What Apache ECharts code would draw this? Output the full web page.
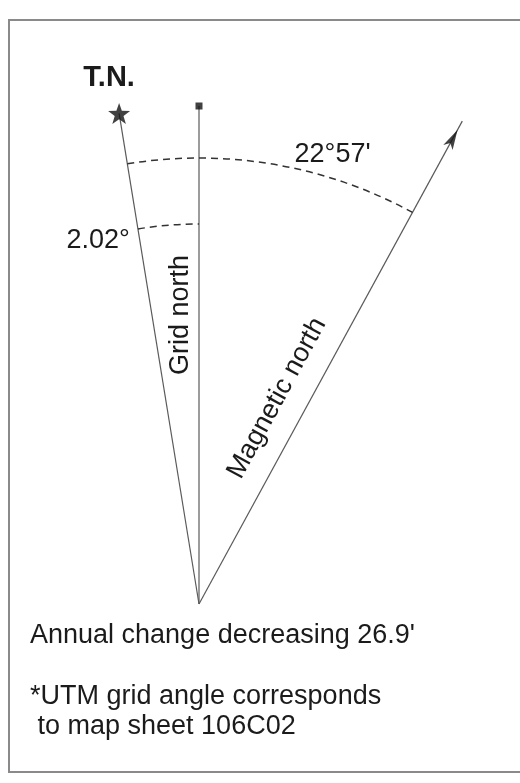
<!DOCTYPE html>
<html><head><meta charset="utf-8">
<script src="https://cdn.jsdelivr.net/npm/echarts/dist/echarts.min.js"></script>
<style>html,body{margin:0;padding:0;background:#fff}#c{width:520px;height:783px}</style>
</head><body><div id="c"></div>
<script>
// ---- data ----
const directions = ['T.N.', 'Grid north', 'Magnetic north'];
const drawnAngles = [-9.25, 0, 28.6];      // drawn direction, degrees clockwise from grid north
const lineLengths = [497, 498, 550];       // drawn line lengths (radius units)
const arcRadii = [380, 446];
const arcFrom = [0, 0];                    // index into directions
const arcTo = [1, 2];
const arcLabels = ['2.02°', "22°57'"];
const notes = ["Annual change decreasing 26.9'", '*UTM grid angle corresponds', ' to map sheet 106C02'];

// ---- styling / layout ----
const FONT = 'Liberation Sans, Arial, Helvetica, sans-serif';
const TEXT = '#1b1b1b';
const LINE = '#5a5a5a';
const STAR = 'path://M50,0 L61.8,33.8 L97.6,34.5 L69,56.2 L79.4,90.5 L50,70 L20.6,90.5 L31,56.2 L2.4,34.5 L38.2,33.8 Z';
const markerStyle = [
  { symbol: STAR, symbolSize: [22, 21], back: 0, rotate: false },
  { symbol: 'rect', symbolSize: [7, 7], back: 0, rotate: false },
  { symbol: 'arrow', symbolSize: [8, 20], back: 10, rotate: true }
];
const labelLayout = [
  { mode: 'end', dx: -10, dy: -35, weight: 'bold', size: 29 },
  { mode: 'along', along: 289, side: 18 },
  { mode: 'along', along: 218, side: 30 }
];
const arcLabelLayout = [
  { frac: 0, dx: -8, dy: 12, align: 'right' },
  { frac: 0.68, dx: 7, dy: -22, align: 'center' }
];

const chart = echarts.init(document.getElementById('c'), null, { renderer: 'canvas' });

const lineSeries = directions.map((d, i) => ({
  type: 'line', coordinateSystem: 'polar', name: d,
  data: [[0, drawnAngles[i]], [lineLengths[i], drawnAngles[i]]],
  showSymbol: false, symbol: 'none', silent: true,
  lineStyle: { color: LINE, width: 1.2 }, z: 2
}));

const markerSeries = {
  type: 'scatter', coordinateSystem: 'polar', silent: true, z: 4,
  data: directions.map((d, i) => ({
    value: [lineLengths[i] - markerStyle[i].back, drawnAngles[i]],
    symbol: markerStyle[i].symbol,
    symbolSize: markerStyle[i].symbolSize,
    symbolRotate: markerStyle[i].rotate ? -drawnAngles[i] : 0,
    itemStyle: { color: '#111' }
  }))
};

const lineLabelSeries = {
  type: 'custom', coordinateSystem: 'polar', silent: true, z: 5,
  encode: { radius: 0, angle: 1 },
  data: directions.map((d, i) => [lineLengths[i], drawnAngles[i], i]),
  renderItem: function (params, api) {
    const L = api.value(0), a = api.value(1), i = api.value(2);
    const lay = labelLayout[i];
    let x, y, rot = 0;
    if (lay.mode === 'end') {
      const p = api.coord([L, a]);
      x = p[0] + lay.dx; y = p[1] + lay.dy;
    } else {
      const p = api.coord([lay.along, a]);
      const rad = a * Math.PI / 180;
      x = p[0] - lay.side * Math.cos(rad);
      y = p[1] - lay.side * Math.sin(rad);
      rot = (90 - a) * Math.PI / 180;
    }
    return {
      type: 'text', x: x, y: y, rotation: rot,
      style: { text: directions[i], fill: TEXT, fontSize: lay.size || 27, fontFamily: FONT,
               fontWeight: lay.weight || 'normal', align: 'center', verticalAlign: 'middle' }
    };
  }
};

const arcSeries = {
  type: 'custom', coordinateSystem: 'polar', silent: true, z: 3,
  encode: { radius: 0, angle: 1 },
  data: arcRadii.map((r, k) => [r, drawnAngles[arcFrom[k]], drawnAngles[arcTo[k]], k]),
  renderItem: function (params, api) {
    const r = api.value(0), a0 = api.value(1), a1 = api.value(2), k = api.value(3);
    const c = api.coord([0, a0]);
    const p0 = api.coord([r, a0]);
    const p1 = api.coord([r, a1]);
    const R = Math.hypot(p0[0] - c[0], p0[1] - c[1]);
    const s = Math.atan2(p0[1] - c[1], p0[0] - c[0]);
    const e = Math.atan2(p1[1] - c[1], p1[0] - c[0]);
    const lay = arcLabelLayout[k];
    const pl = api.coord([r, a0 + (a1 - a0) * lay.frac]);
    return {
      type: 'group',
      children: [
        { type: 'arc', shape: { cx: c[0], cy: c[1], r: R, startAngle: s, endAngle: e, clockwise: true },
          style: { stroke: '#333', fill: null, lineWidth: 1.5, lineDash: [7, 5] } },
        { type: 'text', x: pl[0] + lay.dx, y: pl[1] + lay.dy,
          style: { text: arcLabels[k], fill: TEXT, fontSize: 27, fontFamily: FONT,
                   align: lay.align, verticalAlign: 'middle' } }
      ]
    };
  }
};

const noteY = [636, 697, 727];
const graphics = [
  { type: 'polyline', silent: true,
    shape: { points: [[540, 20], [9, 20], [9, 772], [540, 772]] },
    style: { stroke: '#8a8a8a', lineWidth: 2, fill: null } }
].concat(notes.map((t, i) => ({
  type: 'text', x: 30, y: noteY[i], silent: true,
  style: { text: t, fill: TEXT, fontSize: 27, fontFamily: FONT, verticalAlign: 'middle', align: 'left' }
})));

chart.setOption({
  animation: false,
  backgroundColor: '#fff',
  polar: { center: [199, 604], radius: 560 },
  angleAxis: { type: 'value', min: -180, max: 180, startAngle: 270, clockwise: true, show: false },
  radiusAxis: { type: 'value', min: 0, max: 560, show: false },
  graphic: graphics,
  series: lineSeries.concat([arcSeries, markerSeries, lineLabelSeries])
});
</script></body></html>
